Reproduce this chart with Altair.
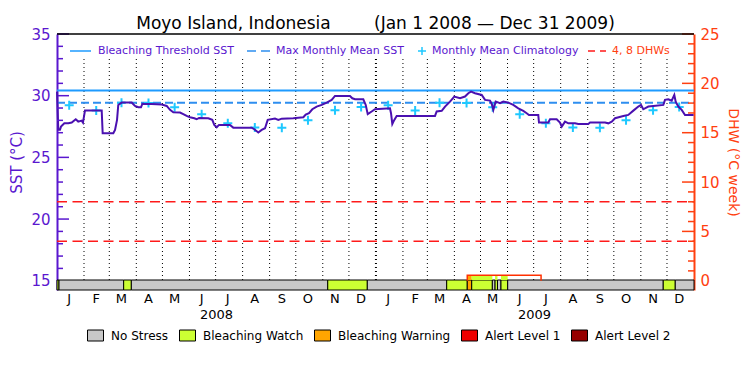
import altair as alt
import pandas as pd

FONT = "DejaVu Sans"
PURPLE = "#5a17cf"
ORANGE = "#ff4010"
SST_COLOR = "#4a10b0"
THR_COLOR = "#1e9bff"
MMM_COLOR = "#2e8ef0"
CLIM_COLOR = "#1ec8ff"
DHW_COLOR = "#ff1a1a"
PLUS = "M-1,0H1M0,-1V1"

W, H = 637, 256

# ---------------- data ----------------
# days since 2008-01-01
SST_DAY = [0, 1.5, 3.4, 4.6, 8.4, 13, 16.9, 21.5, 24.4, 28.3,
           29.8, 32.1, 51.3, 52.4, 64.6, 66.6, 68.9, 70.3, 74.2, 85.7,
           89.5, 93.3, 96.4, 97.9, 108.7, 120.2, 125.9, 129.7, 133.5, 141.2,
           144.9, 148.8, 152.6, 157.6, 160.3, 163, 173.6, 178.2, 180.5, 183.3,
           185.9, 198.5, 202.3, 223.4, 226.4, 231, 234.9, 238.7, 241.8, 250.2,
           254, 257.9, 271.2, 276.9, 282.7, 285.4, 289.2, 293, 298, 303.8,
           309.5, 315.2, 319, 336.2, 338.9, 342, 351.5, 354.3, 356.6, 361.1,
           364.9, 382.1, 383.3, 384.8, 387.1, 389.8, 433.8, 435.7, 441.5, 445.3,
           451, 455.9, 462.5, 468.2, 472, 475.1, 479.7, 487.4, 491.2, 496.9,
           498.9, 500.7, 503.4, 508.4, 512.2, 517.9, 523.6, 529.4, 535.1, 539,
           541.6, 552.3, 553.1, 563.8, 565.8, 573.4, 577.2, 579.2, 583, 586.8,
           594.5, 598.2, 609.7, 611.7, 628.9, 632.7, 636.6, 640.4, 649.9, 655.6,
           661.4, 667.1, 670.2, 672.8, 678.6, 684.3, 695.8, 697.7, 701.5, 705.4,
           708.4, 710, 713, 716.9, 720.7, 730.5]
SST_VAL = [30.33, 27.23, 27.23, 27.49, 27.76, 27.76, 27.82, 28.09, 27.90, 27.98,
           27.82, 28.79, 28.79, 26.96, 26.96, 27.23, 28.04, 29.25, 29.44, 29.44,
           29.17, 29.06, 29.06, 29.33, 29.33, 29.28, 29.17, 28.85, 28.66, 28.63,
           28.50, 28.36, 28.25, 28.17, 28.09, 28.20, 28.17, 28.04, 27.63, 27.44,
           27.63, 27.63, 27.41, 27.41, 27.28, 27.01, 27.23, 27.36, 28.04, 28.14,
           28.04, 28.14, 28.17, 28.22, 28.25, 28.47, 28.58, 28.90, 29.12, 29.25,
           29.44, 29.66, 29.98, 29.98, 29.79, 29.71, 29.71, 29.25, 28.50, 28.72,
           28.90, 28.98, 28.58, 27.71, 28.04, 28.36, 28.36, 28.72, 28.77, 29.12,
           29.52, 29.93, 29.79, 29.93, 30.20, 30.33, 30.20, 30.06, 29.66, 29.60,
           29.33, 28.85, 29.52, 29.39, 29.52, 29.44, 29.25, 28.98, 28.77, 28.58,
           28.44, 28.44, 27.82, 27.82, 28.09, 28.09, 27.82, 27.49, 27.90, 27.76,
           27.76, 27.71, 27.71, 27.82, 27.82, 27.76, 27.90, 28.17, 28.36, 28.44,
           28.79, 29.12, 29.25, 28.90, 29.12, 29.17, 29.25, 29.66, 29.71, 29.60,
           30.06, 29.52, 29.12, 28.85, 28.44, 28.44]

CLIM_MONTHLY = [29.22, 28.79, 29.42, 29.40, 29.07, 28.50, 27.76, 27.42, 27.41, 28.00, 28.81, 29.08]
MONTH_MID_DAY = [14, 45, 74, 105, 135, 166, 196, 227, 258, 288, 319, 349,
                 380, 411, 439, 470, 500, 531, 561, 592, 623, 653, 684, 714]
MONTH_LETTERS = ["J", "F", "M", "A", "M", "J", "J", "A", "S", "O", "N", "D"] * 2
MONTH_START_DAY = [31, 60, 91, 121, 152, 182, 213, 244, 274, 305, 335, 366,
                   397, 425, 456, 486, 517, 547, 578, 609, 639, 670, 700]
YEAR_MID_DAY = [183, 548]
YEAR_LABELS = ["2008", "2009"]

MMM = 29.42
THRESHOLD = 30.42
DHW_LEVELS = [4, 8]

STRESS_START = [0, 2.3, 76.5, 85.3, 310.7, 356.1, 447.2, 470.8, 475.9, 499.6, 502.7, 505.5, 509.5, 517.2, 695.7, 709.5]
STRESS_END = [2.3, 76.5, 85.3, 310.7, 356.1, 447.2, 470.8, 475.9, 499.6, 502.7, 505.5, 509.5, 517.2, 695.7, 709.5, 731]
STRESS_LEVEL = ["Bleaching Watch", "No Stress", "Bleaching Watch", "No Stress", "Bleaching Watch",
                "No Stress", "Bleaching Watch", "Bleaching Warning", "Bleaching Watch", "No Stress",
                "Bleaching Watch", "No Stress", "Bleaching Watch", "No Stress", "Bleaching Watch", "No Stress"]
STRESS_NAMES = ["No Stress", "Bleaching Watch", "Bleaching Warning", "Alert Level 1", "Alert Level 2"]
STRESS_COLORS = ["#c8c8c8", "#ccff33", "#ffa500", "#ee0000", "#960000"]

DHW_DAY = [470.8, 470.8, 555.5, 555.5]
DHW_VAL = [0.0, 0.55, 0.55, 0.0]

LEFT_MAJOR = [15, 20, 25, 30, 35]
LEFT_MINOR = [v for v in range(15, 36) if v % 5]
RIGHT_MAJOR = [0, 5, 10, 15, 20, 25]
RIGHT_MINOR = [v for v in range(0, 26) if v % 5]

# ---------------- scales ----------------
SST_MIN, SST_MAX = 14.25, 35.0
SST_AT_DHW0, SST_PER_DHW = 15.0, 0.8
BAR_TOP = 15.06
X_SCALE = alt.Scale(domain=[0, 731], nice=False, zero=False)
SST_SCALE = alt.Scale(domain=[SST_MIN, SST_MAX], nice=False, zero=False)
DHW_SCALE = alt.Scale(domain=[(SST_MIN - SST_AT_DHW0) / SST_PER_DHW, (SST_MAX - SST_AT_DHW0) / SST_PER_DHW],
                      nice=False, zero=False)
COLOR_SCALE = alt.Scale(domain=STRESS_NAMES, range=STRESS_COLORS)
STRESS_LEGEND = alt.Legend(orient="none", legendX=30, legendY=293, direction="horizontal",
                           columns=5, title=None, symbolType="M-1,-0.6875H1V0.6875H-1Z",
                           symbolSize=256, symbolStrokeColor="black", symbolStrokeWidth=1,
                           symbolOpacity=1, labelFont=FONT, labelFontSize=12,
                           labelColor="black", columnPadding=8, labelOffset=7,
                           padding=0, labelLimit=200)

sst_df = pd.DataFrame({"day": SST_DAY, "sst": SST_VAL})
clim_df = pd.DataFrame({"day": MONTH_MID_DAY, "clim": CLIM_MONTHLY * 2})
grid_df = pd.DataFrame({"day": MONTH_START_DAY, "w": [2 if d == 366 else 1 for d in MONTH_START_DAY],
                        "lo": BAR_TOP, "hi": 33.0})
stress_df = pd.DataFrame({"start": STRESS_START, "end": STRESS_END, "level": STRESS_LEVEL,
                          "lo": SST_MIN, "hi": BAR_TOP})
month_df = pd.DataFrame({"day": MONTH_MID_DAY, "m": MONTH_LETTERS})
year_df = pd.DataFrame({"day": YEAR_MID_DAY, "y": YEAR_LABELS})
dhw_df = pd.DataFrame({"day": DHW_DAY, "dhw": DHW_VAL, "idx": range(len(DHW_DAY))})
fill_rows = []
d0, d1, dtop = DHW_DAY[0], DHW_DAY[-1], max(DHW_VAL)
for s, e, lv in zip(STRESS_START, STRESS_END, STRESS_LEVEL):
    if lv != "No Stress" and e > d0 and s < d1:
        fill_rows.append({"s": max(s, d0), "e": min(e, d1), "level": lv,
                          "lo": BAR_TOP, "hi": SST_AT_DHW0 + SST_PER_DHW * dtop})
fill_df = pd.DataFrame(fill_rows)
one = pd.DataFrame({"k": [0]})


def xq(field):
    return alt.X(field, type="quantitative", scale=X_SCALE, axis=None)


def ys(field, axis=None):
    return alt.Y(field, type="quantitative", scale=SST_SCALE, axis=axis)


def yd(field, axis=None):
    return alt.Y(field, type="quantitative", scale=DHW_SCALE, axis=axis)


def hline(value, yfun, **mark):
    df = pd.DataFrame({"a": [0], "b": [731], "v": [value]})
    return alt.Chart(df).mark_rule(**mark).encode(x=xq("a"), x2="b", y=yfun("v"))


left_axis = alt.Axis(orient="left", values=LEFT_MAJOR, ticks=False, labelPadding=7,
                     domainColor=PURPLE, domainWidth=2, labelColor=PURPLE, labelFont=FONT,
                     labelFontSize=15, title="SST (°C)", titleColor=PURPLE, titleFont=FONT,
                     titleFontSize=15, titleFontWeight="normal", titlePadding=6, grid=False)
right_axis = alt.Axis(orient="right", values=RIGHT_MAJOR, ticks=False, labelPadding=6,
                      domainColor=ORANGE, domainWidth=2, labelColor=ORANGE, labelFont=FONT,
                      labelFontSize=15, title="DHW (°C week)", titleColor=ORANGE, titleFont=FONT,
                      titleFontSize=14, titleFontWeight="normal", titlePadding=6, grid=False)

lmaj = alt.Chart(pd.DataFrame({"v": LEFT_MAJOR})).mark_rule(color=PURPLE, strokeWidth=1.5).encode(
    y=ys("v", left_axis), x=alt.value(0), x2=alt.value(12))
rmaj = alt.Chart(pd.DataFrame({"v": RIGHT_MAJOR})).mark_rule(color=ORANGE, strokeWidth=1.5).encode(
    y=yd("v", right_axis), x=alt.value(W - 12), x2=alt.value(W))

grid = alt.Chart(grid_df).mark_rule(color="black", strokeDash=[1, 3]).encode(
    x=xq("day"), y=ys("lo"), y2="hi",
    strokeWidth=alt.StrokeWidth("w:Q", scale=None),
)
thr = hline(THRESHOLD, ys, color=THR_COLOR, strokeWidth=2)
mmm = hline(MMM, ys, color=MMM_COLOR, strokeWidth=2, strokeDash=[8, 4])
dhw_lines = [hline(v, yd, color=DHW_COLOR, strokeWidth=1.5, strokeDash=[10, 5.5]) for v in DHW_LEVELS]
clim = alt.Chart(clim_df).mark_point(shape=PLUS, filled=False, strokeWidth=2, size=81,
                                      color=CLIM_COLOR, opacity=1).encode(x=xq("day"), y=ys("clim"))
sst = alt.Chart(sst_df).mark_line(color=SST_COLOR, strokeWidth=2).encode(x=xq("day"), y=ys("sst"))

stress = alt.Chart(stress_df).mark_rect(stroke="black", strokeWidth=1).encode(
    x=xq("start"), x2="end", y=ys("lo"), y2="hi",
    color=alt.Color("level:N", scale=COLOR_SCALE, legend=STRESS_LEGEND),
)
dhw_fill = alt.Chart(fill_df).mark_rect().encode(
    x=xq("s"), x2="e", y=ys("lo"), y2="hi",
    color=alt.Color("level:N", scale=COLOR_SCALE, legend=STRESS_LEGEND),
)
dhw_line = alt.Chart(dhw_df).mark_line(color="#ff3000", strokeWidth=1.5).encode(
    x=xq("day"), y=yd("dhw"), order="idx:Q")

lmin = alt.Chart(pd.DataFrame({"v": LEFT_MINOR})).mark_rule(color=PURPLE, strokeWidth=1.5).encode(
    y=ys("v"), x=alt.value(0), x2=alt.value(6))
rmin = alt.Chart(pd.DataFrame({"v": RIGHT_MINOR})).mark_rule(color=ORANGE, strokeWidth=1.5).encode(
    y=yd("v"), x=alt.value(W - 6), x2=alt.value(W))

top_border = hline(SST_MAX, ys, color="black", strokeWidth=1.5)

months = alt.Chart(month_df).mark_text(font=FONT, fontSize=13, color="black", baseline="middle").encode(
    x=xq("day"), y=alt.value(H + 9), text="m:N")
years = alt.Chart(year_df).mark_text(font=FONT, fontSize=13, color="black", baseline="middle").encode(
    x=xq("day"), y=alt.value(H + 25), text="y:N")


def ltext(x, s, color):
    return alt.Chart(one).mark_text(font=FONT, fontSize=11, color=color, align="left",
                                    baseline="middle").encode(x=alt.value(x), y=alt.value(17),
                                                              text=alt.value(s))


leg = [
    alt.Chart(one).mark_rule(color=THR_COLOR, strokeWidth=1.5).encode(
        x=alt.value(13), x2=alt.value(34), y=alt.value(17)),
    ltext(41, "Bleaching Threshold SST", PURPLE),
    alt.Chart(one).mark_rule(color=MMM_COLOR, strokeWidth=1.5, strokeDash=[9, 5]).encode(
        x=alt.value(190), x2=alt.value(214), y=alt.value(17)),
    ltext(219, "Max Monthly Mean SST", PURPLE),
    alt.Chart(one).mark_point(shape=PLUS, filled=False, strokeWidth=1.5, size=64, color=CLIM_COLOR,
                              opacity=1).encode(x=alt.value(365), y=alt.value(17)),
    ltext(375, "Monthly Mean Climatology", PURPLE),
    alt.Chart(one).mark_rule(color=DHW_COLOR, strokeWidth=1.5, strokeDash=[7, 5]).encode(
        x=alt.value(531), x2=alt.value(549), y=alt.value(17)),
    ltext(555, "4, 8 DHWs", ORANGE),
]

TITLE = "Moyo Island, Indonesia" + "\u00a0" * 8 + "(Jan 1 2008 \u2014 Dec 31 2009)"

chart = alt.layer(
    lmaj, rmaj, grid, thr, mmm, *dhw_lines, clim, sst, stress, dhw_fill, dhw_line,
    lmin, rmin, top_border, months, years, *leg,
).resolve_scale(y="independent").properties(
    width=W, height=H,
    title=alt.Title(TITLE, font=FONT, fontSize=17, fontWeight="normal", color="black",
                    anchor="middle", frame="group", offset=-6),
    padding={"left": 49, "top": 26, "right": 48, "bottom": 56},
    autosize=alt.AutoSizeParams(type="none"),
).configure_view(stroke=None)

chart.save("out.html", embed_options={"renderer": "svg", "actions": False})
